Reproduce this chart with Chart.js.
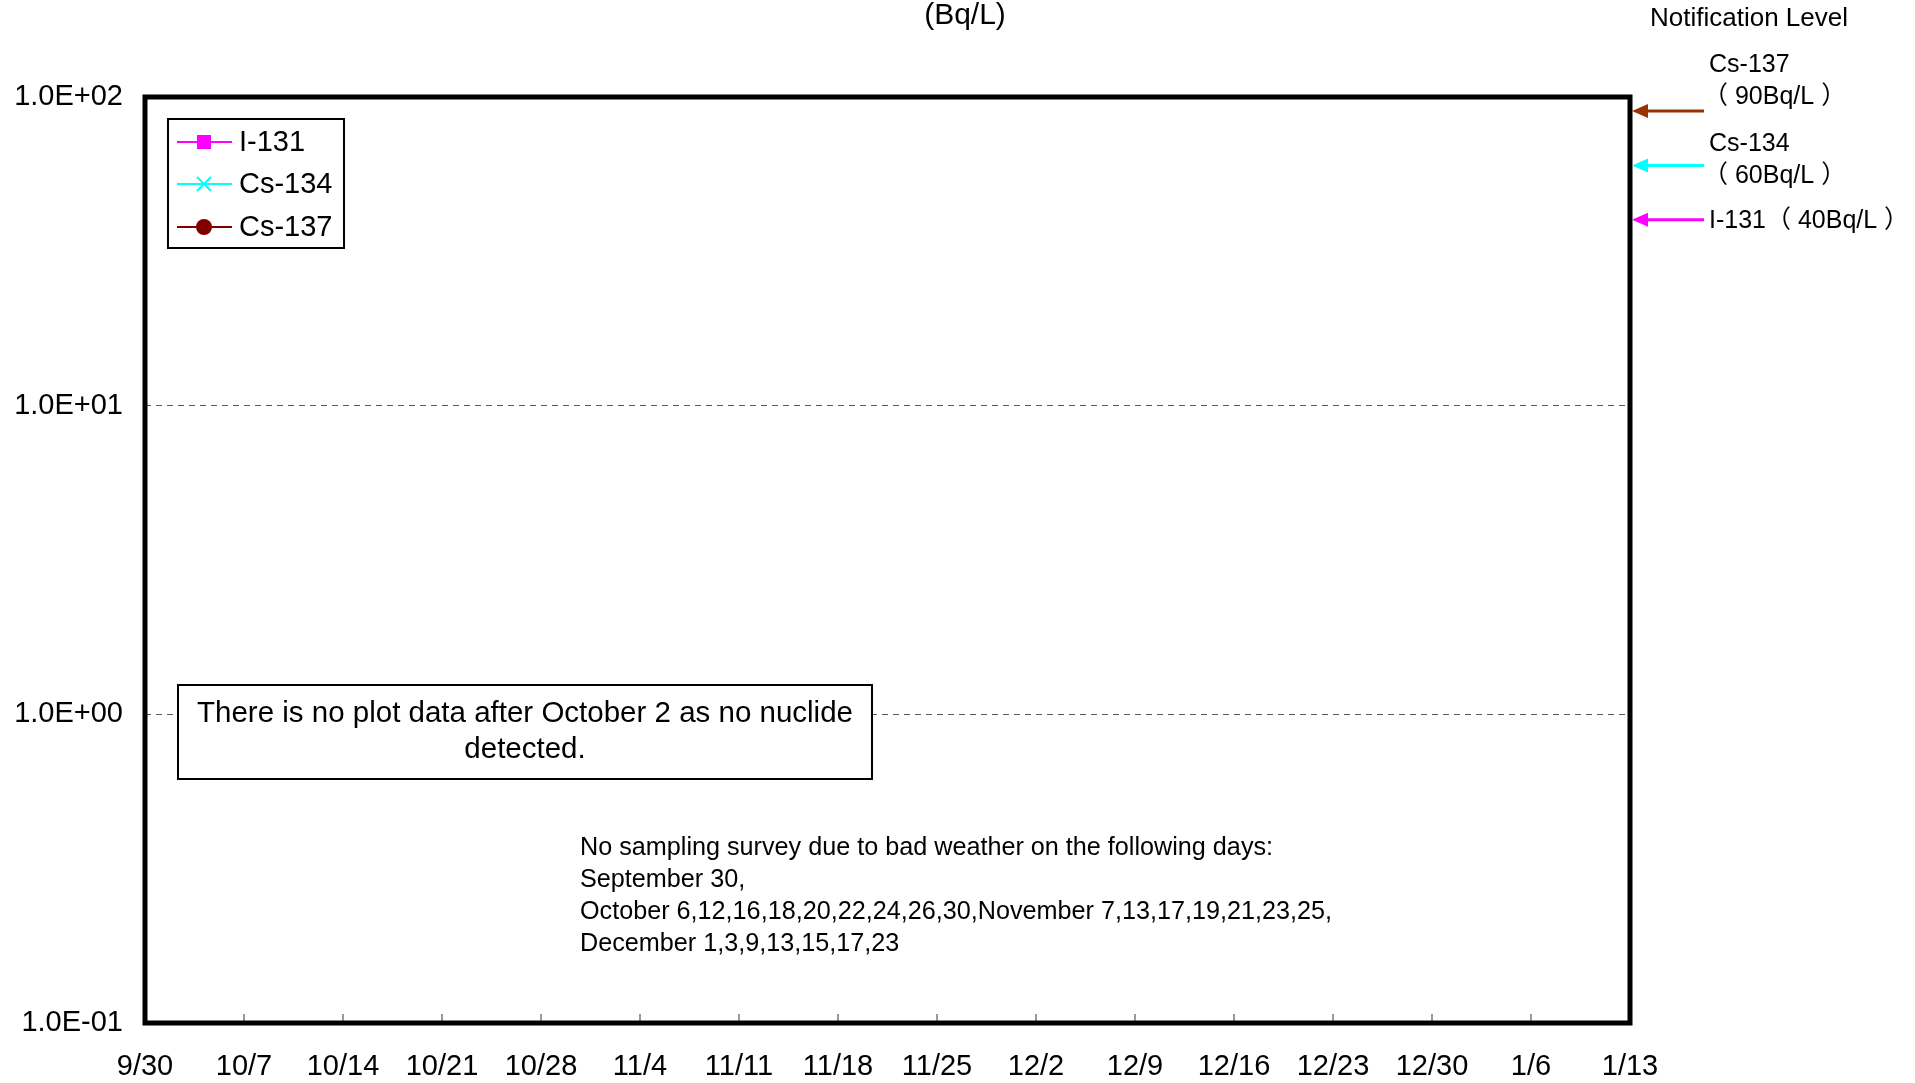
<!DOCTYPE html>
<html>
<head>
<meta charset="utf-8">
<title>Seawater (Bq/L)</title>
<script src="https://cdn.jsdelivr.net/npm/chart.js@4.4.1/dist/chart.umd.min.js"></script>
<style>
  html, body { margin: 0; padding: 0; background: #fff; }
  #wrap { width: 1915px; height: 1083px; position: relative; }
</style>
</head>
<body>
<div id="wrap"><canvas id="nuclideChart"></canvas></div>
<script>
// x axis: days counted from 9/30, one tick per week
const tickDays = [0, 7, 14, 21, 28, 35, 42, 49, 56, 63, 70, 77, 84, 91, 98, 105];
const tickLabels = ["9/30", "10/7", "10/14", "10/21", "10/28", "11/4", "11/11", "11/18",
                    "11/25", "12/2", "12/9", "12/16", "12/23", "12/30", "1/6", "1/13"];

// measured values (nothing detected in this period -> no points)
const i131 = [];
const cs134 = [];
const cs137 = [];

// y axis
const yTicks = [0.1, 1, 10, 100];

// notification levels (Bq/L)
const notifyNames = ["Cs-137", "Cs-134", "I-131"];
const notifyLevels = [90, 60, 40];
const notifyColors = ["#993300", "#00FFFF", "#FF00FF"];

const FONT = '"Liberation Sans", Arial, "Noto Sans CJK JP", sans-serif';

function fmtExp(v) {
  const e = Math.round(Math.log10(v));
  const sign = e < 0 ? "-" : "+";
  return "1.0E" + sign + String(Math.abs(e)).padStart(2, "0");
}

function drawArrow(ctx, x1, x2, y, color) {
  ctx.save();
  ctx.strokeStyle = color;
  ctx.fillStyle = color;
  ctx.lineWidth = 3;
  ctx.beginPath();
  ctx.moveTo(x1, y);
  ctx.lineTo(x2 + 12, y);
  ctx.stroke();
  ctx.beginPath();
  ctx.moveTo(x2, y);
  ctx.lineTo(x2 + 16, y - 7);
  ctx.lineTo(x2 + 16, y + 7);
  ctx.closePath();
  ctx.fill();
  ctx.restore();
}

function drawMarker(ctx, style, x, y, color) {
  ctx.save();
  ctx.fillStyle = color;
  ctx.strokeStyle = color;
  if (style === "rect") {
    ctx.fillRect(x - 7, y - 7, 14, 14);
  } else if (style === "cross") {
    ctx.lineWidth = 2;
    ctx.beginPath();
    ctx.moveTo(x - 7, y - 7); ctx.lineTo(x + 7, y + 7);
    ctx.moveTo(x + 7, y - 7); ctx.lineTo(x - 7, y + 7);
    ctx.stroke();
  } else {
    ctx.beginPath();
    ctx.arc(x, y, 8, 0, Math.PI * 2);
    ctx.fill();
  }
  ctx.restore();
}

// everything Excel drew around the plot area
const decorations = {
  id: "decorations",
  afterDatasetsDraw(chart) {
    const ctx = chart.ctx;
    const a = chart.chartArea;
    const xs = chart.scales.x;
    const ys = chart.scales.y;

    // inside tick marks on the date axis
    ctx.save();
    ctx.strokeStyle = "#777";
    ctx.lineWidth = 1.5;
    tickDays.forEach(d => {
      const px = xs.getPixelForValue(d);
      ctx.beginPath();
      ctx.moveTo(px, a.bottom);
      ctx.lineTo(px, a.bottom - 9);
      ctx.stroke();
    });
    ctx.restore();

    // "no data" box
    ctx.save();
    ctx.fillStyle = "#fff";
    ctx.fillRect(178, 685, 694, 94);
    ctx.strokeStyle = "#000";
    ctx.lineWidth = 2;
    ctx.strokeRect(178, 685, 694, 94);
    ctx.fillStyle = "#000";
    ctx.font = "29.5px " + FONT;
    ctx.textAlign = "center";
    ctx.textBaseline = "middle";
    ctx.fillText("There is no plot data after October 2 as no nuclide", 525, 714);
    ctx.fillText("detected.", 525, 750);
    ctx.restore();

    // note about missed sampling days
    ctx.save();
    ctx.fillStyle = "#000";
    ctx.font = "25.2px " + FONT;
    ctx.textBaseline = "middle";
    ["No sampling survey due to bad weather on the following days:",
     "September 30,",
     "October 6,12,16,18,20,22,24,26,30,November 7,13,17,19,21,23,25,",
     "December 1,3,9,13,15,17,23"].forEach((t, i) => ctx.fillText(t, 580, 848 + i * 32));
    ctx.restore();

    // legend
    ctx.save();
    ctx.fillStyle = "#fff";
    ctx.fillRect(168, 119, 176, 129);
    ctx.strokeStyle = "#000";
    ctx.lineWidth = 2;
    ctx.strokeRect(168, 119, 176, 129);
    const rows = [142, 184, 227];
    chart.data.datasets.forEach((ds, i) => {
      ctx.strokeStyle = ds.borderColor;
      ctx.lineWidth = 2;
      ctx.beginPath();
      ctx.moveTo(177, rows[i]);
      ctx.lineTo(232, rows[i]);
      ctx.stroke();
      drawMarker(ctx, ds.pointStyle, 204, rows[i], ds.borderColor);
      ctx.fillStyle = "#000";
      ctx.font = "29px " + FONT;
      ctx.textBaseline = "middle";
      ctx.fillText(ds.label, 239, rows[i] + 1);
    });
    ctx.restore();

    // plot frame
    ctx.save();
    ctx.strokeStyle = "#000";
    ctx.lineWidth = 5;
    ctx.strokeRect(a.left, a.top, a.right - a.left, a.bottom - a.top);
    ctx.restore();

    // unit above the plot
    ctx.save();
    ctx.fillStyle = "#000";
    ctx.font = "30px " + FONT;
    ctx.textAlign = "center";
    ctx.textBaseline = "middle";
    ctx.fillText("(Bq/L)", 965, 16);
    ctx.restore();

    // notification levels on the right
    ctx.save();
    ctx.fillStyle = "#000";
    ctx.textBaseline = "middle";
    ctx.font = "26px " + FONT;
    ctx.fillText("Notification Level", 1650, 19);
    ctx.font = "25px " + FONT;
    ctx.fillText("Cs-137", 1709, 65);
    ctx.fillText("（ 90Bq/L ）", 1703, 97);
    ctx.fillText("Cs-134", 1709, 144);
    ctx.fillText("（ 60Bq/L ）", 1703, 176);
    ctx.fillText("I-131（ 40Bq/L ）", 1709, 221);
    ctx.restore();
    notifyLevels.forEach((v, i) => {
      drawArrow(ctx, 1704, a.right + 2, ys.getPixelForValue(v), notifyColors[i]);
    });
  }
};

const ctx = document.getElementById("nuclideChart");

new Chart(ctx, {
  type: "line",
  data: {
    datasets: [
      { label: "I-131", data: i131, borderColor: "#FF00FF", backgroundColor: "#FF00FF", pointStyle: "rect", borderWidth: 2 },
      { label: "Cs-134", data: cs134, borderColor: "#00FFFF", backgroundColor: "#00FFFF", pointStyle: "cross", borderWidth: 2 },
      { label: "Cs-137", data: cs137, borderColor: "#800000", backgroundColor: "#800000", pointStyle: "circle", borderWidth: 2 }
    ]
  },
  options: {
    responsive: true,
    maintainAspectRatio: false,
    animation: false,
    events: [],
    layout: { padding: { top: 97, right: 285, left: 0, bottom: 0 } },
    plugins: { legend: { display: false }, tooltip: { enabled: false } },
    scales: {
      x: {
        type: "linear",
        min: 0,
        max: 105,
        afterBuildTicks: s => { s.ticks = tickDays.map(v => ({ value: v })); },
        afterFit: s => { s.height = 60; },
        ticks: {
          autoSkip: false,
          maxRotation: 0,
          padding: 27,
          color: "#000",
          font: { family: FONT, size: 29 },
          callback: v => tickLabels[tickDays.indexOf(v)]
        },
        grid: { display: false, drawTicks: false },
        border: { display: false }
      },
      y: {
        type: "logarithmic",
        min: 0.1,
        max: 100,
        afterBuildTicks: s => { s.ticks = yTicks.map(v => ({ value: v })); },
        afterFit: s => { s.width = 145; },
        ticks: {
          padding: 22,
          color: "#000",
          font: { family: FONT, size: 29 },
          callback: v => fmtExp(v)
        },
        grid: { color: "#5a5a5a", lineWidth: 1, drawTicks: false },
        border: { display: false, dash: [6, 5] }
      }
    }
  },
  plugins: [decorations]
});
</script>
</body>
</html>
